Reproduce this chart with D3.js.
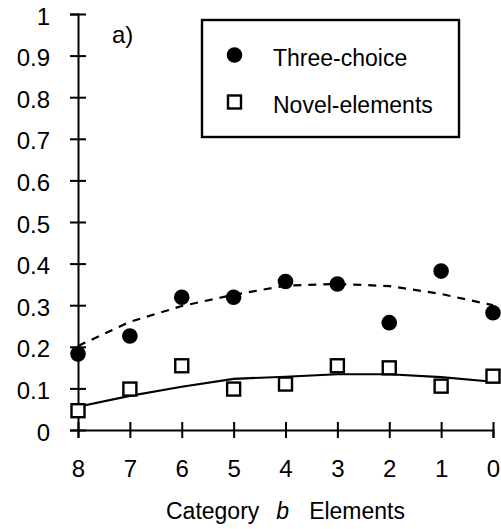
<!DOCTYPE html>
<html>
<head>
<meta charset="utf-8">
<script src="https://cdn.jsdelivr.net/npm/d3@7"></script>
<style>
  html, body { margin: 0; padding: 0; background: #fff; }
  svg { display: block; font-family: "Liberation Sans", Arial, sans-serif; }
  .axis path, .axis line { stroke: #000; stroke-width: 2; }
  .axis text { fill: #000; font-size: 24px; }
</style>
</head>
<body>
<div id="chart"></div>
<script>
const categories = [8, 7, 6, 5, 4, 3, 2, 1, 0];
const threeChoice = [0.183, 0.226, 0.319, 0.319, 0.357, 0.351, 0.258, 0.382, 0.282];
const novelElements = [0.044, 0.096, 0.152, 0.096, 0.108, 0.152, 0.147, 0.103, 0.127];
const threeChoiceFit = [0.202, 0.26, 0.298, 0.325, 0.347, 0.351, 0.346, 0.327, 0.3];
const novelElementsFit = [0.056, 0.082, 0.104, 0.123, 0.128, 0.134, 0.134, 0.127, 0.116];
const yTicks = [0, 0.1, 0.2, 0.3, 0.4, 0.5, 0.6, 0.7, 0.8, 0.9, 1];
const seriesNames = ['Three-choice', 'Novel-elements'];

const width = 501;
const height = 529;
const margin = { top: 14, right: 8, bottom: 99, left: 78 };

const svg = d3.select('#chart').append('svg').attr('width', width).attr('height', height);

const x = d3.scaleLinear().domain([8, 0]).range([margin.left, width - margin.right]);
const y = d3.scaleLinear().domain([0, 1]).range([height - margin.bottom, margin.top]);

// ticks cross the axis lines on both sides
const yAxis = svg
  .append('g')
  .attr('class', 'axis')
  .attr('transform', `translate(${margin.left},0)`)
  .call(d3.axisLeft(y).tickValues(yTicks).tickFormat(d3.format('~g')).tickSizeOuter(0).tickSize(8).tickPadding(20));
yAxis.selectAll('.tick line').attr('x1', -8).attr('x2', 8);
yAxis.selectAll('.tick text').attr('dy', '0.42em');

const xAxis = svg
  .append('g')
  .attr('class', 'axis')
  .attr('transform', `translate(0,${y(0)})`)
  .call(d3.axisBottom(x).tickValues(categories).tickFormat(d3.format('d')).tickSizeOuter(0).tickSize(8).tickPadding(22));
xAxis.selectAll('.tick line').attr('y1', -8).attr('y2', 8);

const title = svg
  .append('text')
  .attr('x', (x(8) + x(0)) / 2)
  .attr('y', 519)
  .attr('text-anchor', 'middle')
  .attr('font-size', 23)
  .attr('fill', '#000');
title.append('tspan').text('Category');
title.append('tspan').attr('dx', 17).attr('font-style', 'italic').text('b');
title.append('tspan').attr('dx', 20).text('Elements');

svg.append('text').attr('x', 112).attr('y', 43).attr('font-size', 24).attr('fill', '#000').text('a)');

const line = d3
  .line()
  .x((d, i) => x(categories[i]))
  .y((d) => y(d));

svg.append('path').datum(threeChoiceFit).attr('d', line).attr('fill', 'none').attr('stroke', '#000').attr('stroke-width', 2.2).attr('stroke-dasharray', '8,7');
svg.append('path').datum(novelElementsFit).attr('d', line).attr('fill', 'none').attr('stroke', '#000').attr('stroke-width', 2.2);

svg
  .append('g')
  .selectAll('circle')
  .data(threeChoice)
  .join('circle')
  .attr('cx', (d, i) => x(categories[i]))
  .attr('cy', (d) => y(d))
  .attr('r', 7.8)
  .attr('fill', '#000');

const sq = 15;
svg
  .append('g')
  .selectAll('rect')
  .data(novelElements)
  .join('rect')
  .attr('x', (d, i) => x(categories[i]) - sq / 2 + 1)
  .attr('y', (d) => y(d) - sq / 2)
  .attr('width', sq - 2)
  .attr('height', sq - 2)
  .attr('fill', '#fff')
  .attr('stroke', '#000')
  .attr('stroke-width', 2.4);

// legend
const legend = svg.append('g');
legend.append('rect').attr('x', 202).attr('y', 20).attr('width', 257).attr('height', 117).attr('fill', '#fff').attr('stroke', '#000').attr('stroke-width', 2.4);
legend.append('circle').attr('cx', 234.5).attr('cy', 55).attr('r', 7.8).attr('fill', '#000');
legend.append('rect').attr('x', 228).attr('y', 95.5).attr('width', 13).attr('height', 13).attr('fill', '#fff').attr('stroke', '#000').attr('stroke-width', 2.4);
seriesNames.forEach((name, i) => {
  legend.append('text').attr('x', 273).attr('y', 66 + i * 47).attr('font-size', 23).attr('fill', '#000').text(name);
});
</script>
</body>
</html>
